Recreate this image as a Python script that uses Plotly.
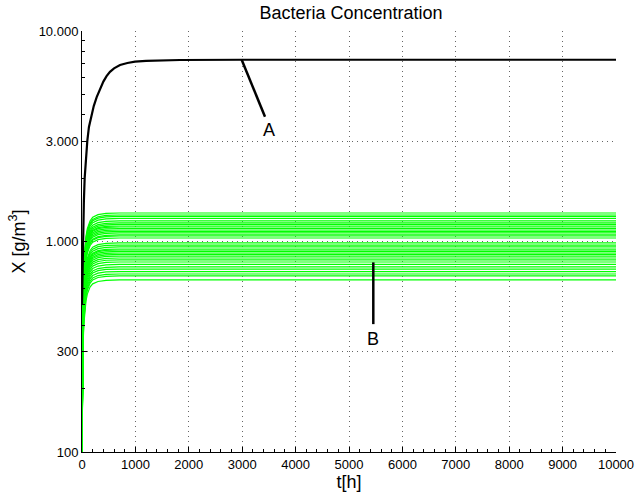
import math
import plotly.graph_objects as go

# ---- data ----
t_black = [0, 5, 10, 20, 35, 50, 70, 99, 130, 170, 220, 275, 340, 400, 460, 524, 600, 712,
           850, 993, 1200, 1400, 1835, 3000, 10000]
x_black = [500, 640, 780, 1080, 1550, 2000, 2500, 3000, 3500, 3950, 4400, 4850, 5350, 5750,
           6100, 6400, 6650, 6890, 7050, 7150, 7220, 7250, 7280, 7300, 7300]

# plateau levels of the green family (g/m3)
green_plateaus = [1366, 1336, 1315, 1287, 1252, 1225, 1205, 1185, 1172, 1153, 1134, 1116,
                  1098, 1074, 1062, 1039, 984, 962, 942, 921, 911, 897, 882, 868, 853,
                  835, 818, 799, 778, 757, 740, 720, 701, 686, 657]
green_start = 100
# shared rise profile (fraction of way from start to plateau)
t_green = [0, 5, 10, 20, 35, 50, 75, 100, 150, 200, 300, 450, 700, 10000]
rise_frac = [0.0, 0.12, 0.25, 0.40, 0.55, 0.65, 0.76, 0.83, 0.91, 0.95, 0.98, 0.995, 1.0, 1.0]

x_ticks = list(range(0, 10001, 1000))
y_tickvals = [100, 300, 1000, 3000, 10000]
y_ticktext = ["100", "300", "1.000", "3.000", "10.000"]
y_minor = [200, 400, 500, 600, 700, 800, 900, 2000, 4000, 5000, 6000, 7000, 8000, 9000]

ann_A = dict(x0=2990, y0=7300, x1=3427, y1=3917, tx=3502, ty=3386, text="A")
ann_B = dict(x0=5455, y0=796, x1=5455, y1=405, tx=5455, ty=344, text="B")

fig = go.Figure()
for p in green_plateaus:
    ys = [green_start + (p - green_start) * f for f in rise_frac]
    fig.add_trace(go.Scatter(x=t_green, y=ys, mode="lines",
                             line=dict(color="#00ff00", width=1.2), showlegend=False))
fig.add_trace(go.Scatter(x=t_black, y=x_black, mode="lines",
                         line=dict(color="black", width=2.2),
                         showlegend=False))

for a in (ann_A, ann_B):
    fig.add_trace(go.Scatter(x=[a["x0"], a["x1"]], y=[a["y0"], a["y1"]], mode="lines",
                             line=dict(color="black", width=2.5), showlegend=False))
    fig.add_annotation(x=a["tx"], y=math.log10(a["ty"]), text=a["text"], showarrow=False,
                       font=dict(size=18, color="black"), xanchor="center", yanchor="middle")

font_family = "Liberation Sans, Arial, sans-serif"
fig.update_layout(
    width=636, height=496,
    margin=dict(l=82, r=20, t=31, b=44),
    paper_bgcolor="white", plot_bgcolor="white",
    font=dict(family=font_family, size=13, color="black"),
    title=dict(text="Bacteria Concentration", x=351 / 636,
               xanchor="center", y=1 - 13 / 496, yanchor="middle",
               font=dict(size=18, color="black")),
)
fig.update_xaxes(
    range=[0, 10000], tickvals=x_ticks, ticktext=[str(v) for v in x_ticks],
    automargin=False,
    showline=True, linecolor="black", linewidth=1, mirror=False,
    ticks="inside", ticklen=5, tickcolor="black",
    showgrid=True, gridcolor="#666666", griddash="1px,4px", gridwidth=1,
    zeroline=False,
    minor=dict(ticks="inside", ticklen=3, tickcolor="black", dtick=200, showgrid=False),
    title=dict(text="t[h]", font=dict(size=18), standoff=0),
    tickfont=dict(size=13),
)
fig.update_yaxes(
    type="log", range=[2, 4], tickvals=y_tickvals, ticktext=y_ticktext,
    automargin=False,
    showline=True, linecolor="black", linewidth=1, mirror=False,
    ticks="inside", ticklen=5, tickcolor="black",
    showgrid=True, gridcolor="#666666", griddash="1px,4px", gridwidth=1,
    zeroline=False,
    minor=dict(ticks="inside", ticklen=3, tickcolor="black", tickvals=y_minor, showgrid=False),
    title=dict(text="X [g/m<sup>3</sup>]", font=dict(size=18), standoff=8),
    tickfont=dict(size=13),
)

fig.write_html("out.html")
